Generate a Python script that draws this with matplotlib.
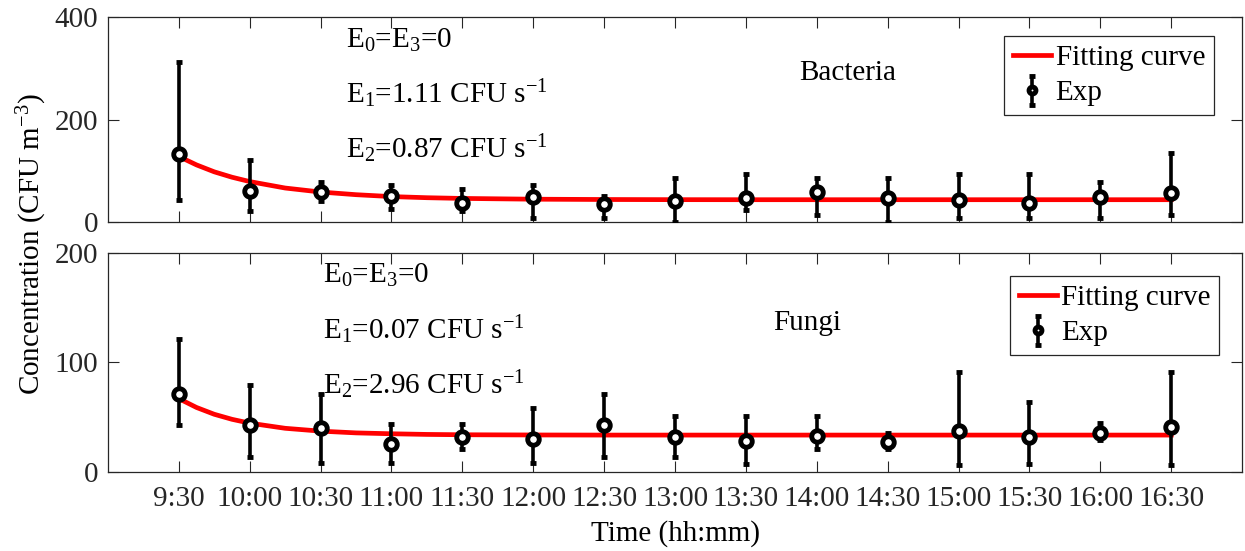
import matplotlib
matplotlib.use("Agg")
import matplotlib.pyplot as plt
import numpy as np


plt.rcParams['font.family'] = ['Liberation Serif', 'DejaVu Serif']
plt.rcParams['font.size'] = 21
plt.rcParams['mathtext.fontset'] = 'custom'
plt.rcParams['mathtext.rm'] = 'Liberation Serif'
plt.rcParams['mathtext.it'] = 'Liberation Serif:italic'
plt.rcParams['mathtext.bf'] = 'Liberation Serif:bold'

# Sampling times
times = ["9:30", "10:00", "10:30", "11:00", "11:30", "12:00", "12:30", "13:00",
         "13:30", "14:00", "14:30", "15:00", "15:30", "16:00", "16:30"]

# Bacteria measurements (mean, lower and upper ends of error bars)
bac_mean = [132, 61, 58, 51, 38, 49, 35, 41, 47, 59, 47, 44, 38, 49, 57]
bac_low = [43, 21, 42, 26, 22, 7, 7, 0, 23, 14, 0, 7, 7, 7, 13]
bac_high = [312, 122, 79, 72, 65, 72, 50, 86, 93, 86, 86, 93, 93, 79, 135]

# Fungi measurements
fun_mean = [71, 43, 40, 26, 32, 30, 43, 32, 28, 33, 27, 37, 32, 36, 41]
fun_low = [43, 14, 8, 8, 21, 8, 14, 14, 7, 21, 21, 6, 7, 29, 6]
fun_high = [121, 79, 71, 44, 44, 58, 71, 51, 51, 51, 36, 91, 64, 45, 91]

# Fitting curves (position in half-hour steps, value)
fit_pos = [0, 0.25, 0.5, 0.75, 1, 1.5, 2, 2.5, 3, 3.5, 4, 5, 6, 7, 8, 9, 10, 11, 12, 13, 14]
bac_fit = [128, 111.5, 98, 87.5, 79, 66.4, 58.6, 53.4, 49.7, 47.5, 46.1, 44.6, 44, 43.7,
           43.6, 43.6, 43.6, 43.6, 43.6, 43.6, 43.6]
fun_fit = [67, 58.9, 52.7, 48.1, 44.6, 39.9, 37.3, 35.7, 34.9, 34.3, 34, 33.8, 33.7, 33.7,
           33.7, 33.7, 33.7, 33.7, 33.7, 33.7, 33.7]


def draw_panel(ax, mean, low, high, fit, ylim, yticks, notes, note_y, name, name_x, name_y, note_x, leg_anchor):
    x = np.arange(len(times))
    mean = np.array(mean)
    yerr = [mean - np.array(low), np.array(high) - mean]

    ax.plot(fit_pos, fit, color='red', lw=3.4, label='Fitting curve', zorder=2)
    ax.errorbar(x, mean, yerr=yerr, fmt='o', color='black', ecolor='black', elinewidth=2.6,
                capsize=2.2, capthick=3.6, markersize=8.3, markeredgewidth=3.5,
                markerfacecolor='white', label='Exp', zorder=3)

    ax.set_xlim(-1, 15)
    ax.set_ylim(*ylim)
    ax.set_yticks(yticks)
    ax.set_xticks(x)
    ax.tick_params(direction='in', length=8, width=0.8, top=True, right=True, colors='#262626',
                   labelsize=21, pad=7)
    ax.tick_params(axis='x', pad=10)
    for s in ax.spines.values():
        s.set_linewidth(0.9)
        s.set_color('#262626')

    for txt, yy in zip(notes, note_y):
        ax.text(note_x, yy, txt, ha='left', va='baseline', fontsize=21)
    ax.text(name_x, name_y, name, ha='center', va='baseline', fontsize=21)

    leg = ax.legend(loc='upper right', bbox_to_anchor=leg_anchor, fancybox=False,
                    edgecolor='#262626', framealpha=1, handlelength=1.3, handletextpad=0.15,
                    borderpad=0.3, labelspacing=0.3, borderaxespad=0, markerscale=0.6,
                    fontsize=21)
    leg.get_frame().set_linewidth(0.9)


fig = plt.figure(figsize=(12.45, 5.51), dpi=100)
ax1 = fig.add_axes([0.0867, 0.597, 0.911, 0.372])
ax2 = fig.add_axes([0.0867, 0.1434, 0.911, 0.3975])

draw_panel(ax1, bac_mean, bac_low, bac_high, bac_fit, (0, 400), [0, 200, 400],
           [r'E$_{0}$=E$_{3}$=0', r'E$_{1}$=1.11 CFU s$^{-1}$', r'E$_{2}$=0.87 CFU s$^{-1}$'],
           [341, 232, 125], 'Bacteria', 9.43, 277, 2.36, (0.975, 0.907))
draw_panel(ax2, fun_mean, fun_low, fun_high, fun_fit, (0, 200), [0, 100, 200],
           [r'E$_{0}$=E$_{3}$=0', r'E$_{1}$=0.07 CFU s$^{-1}$', r'E$_{2}$=2.96 CFU s$^{-1}$'],
           [172.6, 121.5, 71], 'Fungi', 8.86, 129.7, 2.04, (0.98, 0.895))

ax1.set_xticklabels([])
ax2.set_xticklabels(times)
ax2.set_xlabel('Time (hh:mm)', fontsize=21, labelpad=6)

fig.text(0.026, 0.556, r'Concentration (CFU m$^{-3}$)', rotation=90, ha='center', va='center', fontsize=21)

fig.savefig('out.png', dpi=100)
